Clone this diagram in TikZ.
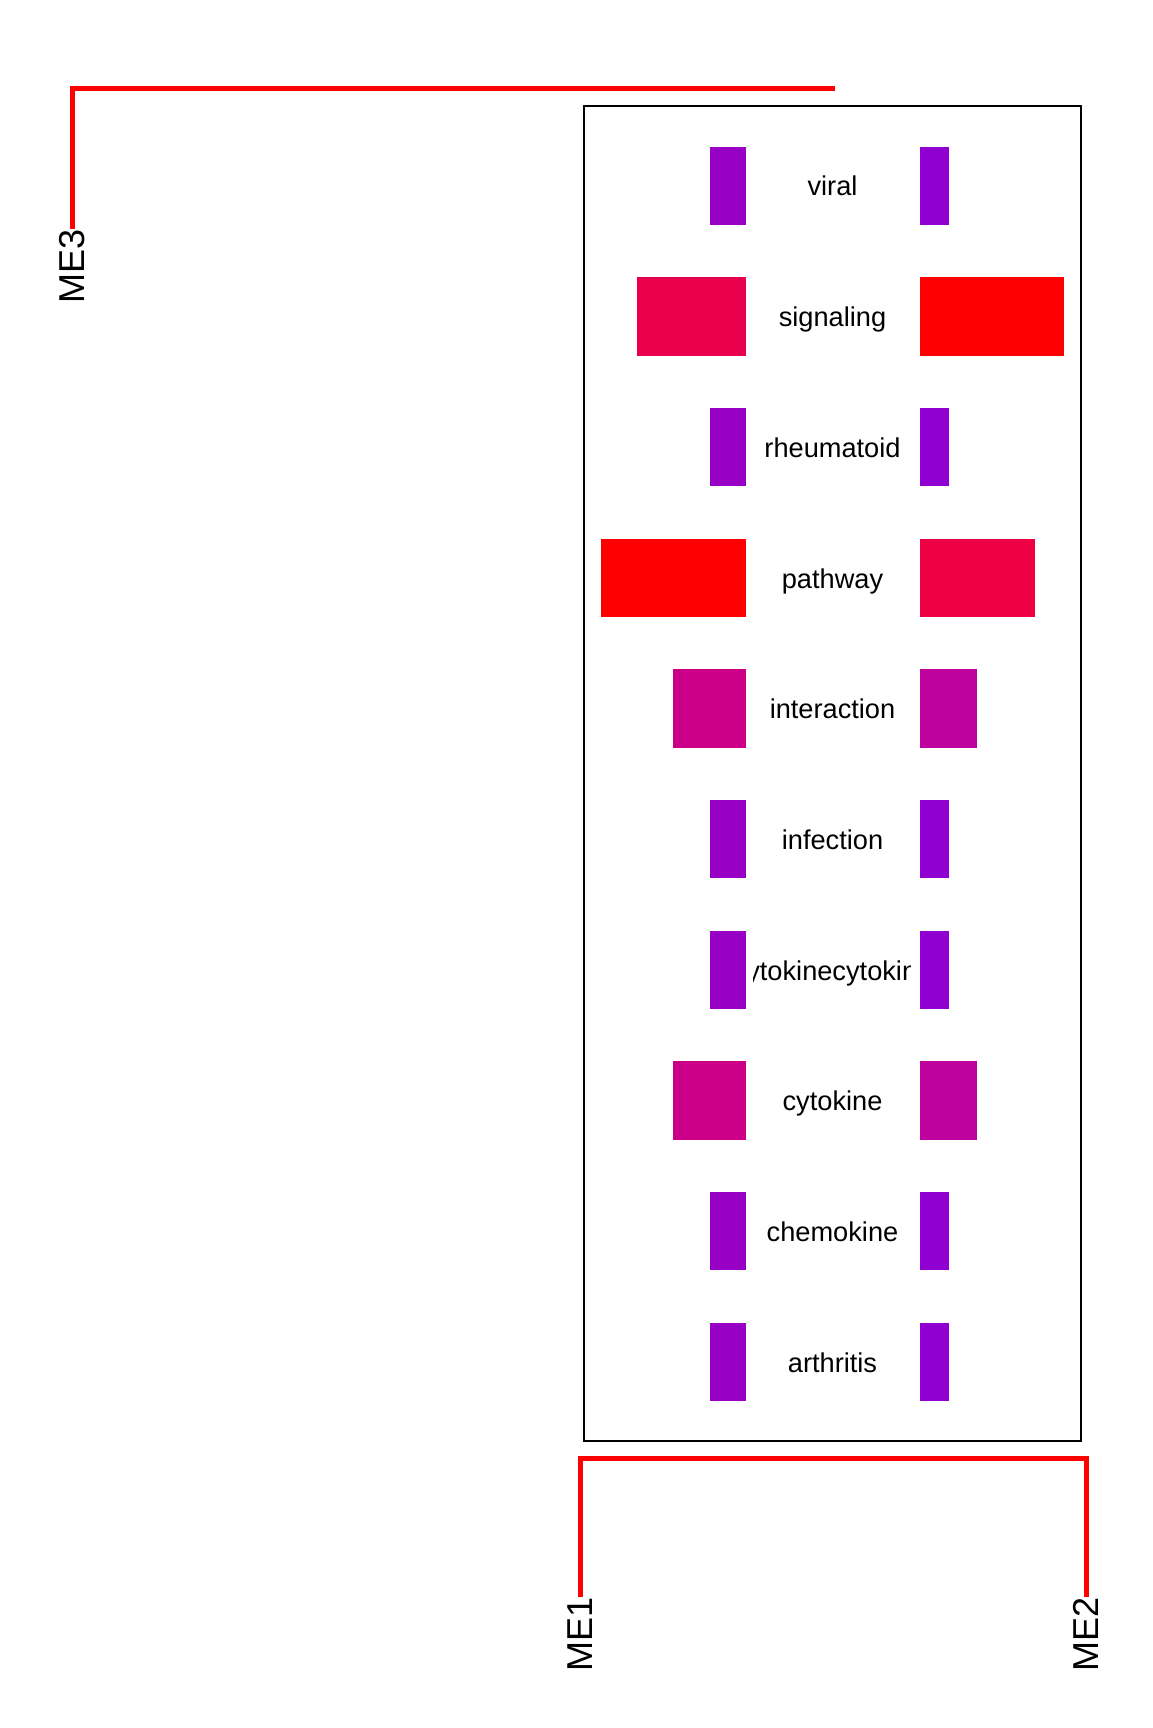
\documentclass[tikz,border=0pt]{standalone}
\usepackage{fontspec}
\setmainfont{Liberation Sans}
\definecolor{thinL}{HTML}{9800C6}
\definecolor{thinR}{HTML}{9000D0}
\definecolor{crimL}{HTML}{E8004C}
\definecolor{crimR}{HTML}{EE0044}
\definecolor{magL}{HTML}{CC0088}
\definecolor{magR}{HTML}{BE009C}

\tikzset{
  term/.style={inner sep=0pt, anchor=base, font=\fontsize{13.6}{16}\selectfont},
  melabel/.style={inner sep=0pt, anchor=east, rotate=90, font=\fontsize{18}{20}\selectfont},
  dendro/.style={draw=red, line width=2.5pt}
}

\begin{document}
\begin{tikzpicture}[x=0.5pt,y=-0.5pt]
  \useasboundingbox (0,0) rectangle (1152,1728);

  % frame
  \draw [black, line width=1pt] (584,105.7) rectangle (1081,1441);

  % left bars (ME1), right bars (ME2)
  \fill [thinL] (710,147) rectangle (746,225);
  \fill [thinR] (920,147) rectangle (949,225);
  \fill [crimL] (637,277) rectangle (746,356);
  \fill [red]   (920,277) rectangle (1064,356);
  \fill [thinL] (710,408) rectangle (746,486);
  \fill [thinR] (920,408) rectangle (949,486);
  \fill [red]   (601,539) rectangle (746,617);
  \fill [crimR] (920,539) rectangle (1035,617);
  \fill [magL]  (673,669) rectangle (746,748);
  \fill [magR]  (920,669) rectangle (977,748);
  \fill [thinL] (710,800) rectangle (746,878);
  \fill [thinR] (920,800) rectangle (949,878);
  \fill [thinL] (710,931) rectangle (746,1009);
  \fill [thinR] (920,931) rectangle (949,1009);
  \fill [magL]  (673,1061) rectangle (746,1140);
  \fill [magR]  (920,1061) rectangle (977,1140);
  \fill [thinL] (710,1192) rectangle (746,1270);
  \fill [thinR] (920,1192) rectangle (949,1270);
  \fill [thinL] (710,1323) rectangle (746,1401);
  \fill [thinR] (920,1323) rectangle (949,1401);

  % terms
  \node [term] (viral) at (832.5,196) {viral};
  \node [term] (signaling) at (832.5,326.5) {signaling};
  \node [term] (rheumatoid) at (832.5,457) {rheumatoid};
  \node [term] (pathway) at (832.5,588) {pathway};
  \node [term] (interaction) at (832.5,718.5) {interaction};
  \node [term] (infection) at (832.5,849) {infection};
  \begin{scope}
    \clip (753,900) rectangle (910,1040);
    \node [term] (cytokine2) at (832.5,980) {cytokinecytokine};
  \end{scope}
  \node [term] (cytokine) at (832.5,1110.5) {cytokine};
  \node [term] (chemokine) at (832.5,1241) {chemokine};
  \node [term] (arthritis) at (832.5,1372) {arthritis};

  % eigengene labels
  \node [melabel] (me1) at (580,1597) {ME1};
  \node [melabel] (me2) at (1086,1597) {ME2};
  \node [melabel] (me3) at (72.5,229) {ME3};

  % dendrogram
  \coordinate (j12) at (833,1458);
  \coordinate (top) at (835,89);
  \path [dendro] (me1.east) |- (j12) -| (me2.east);
  \path [dendro] (me3.east) |- (top);
\end{tikzpicture}
\end{document}
